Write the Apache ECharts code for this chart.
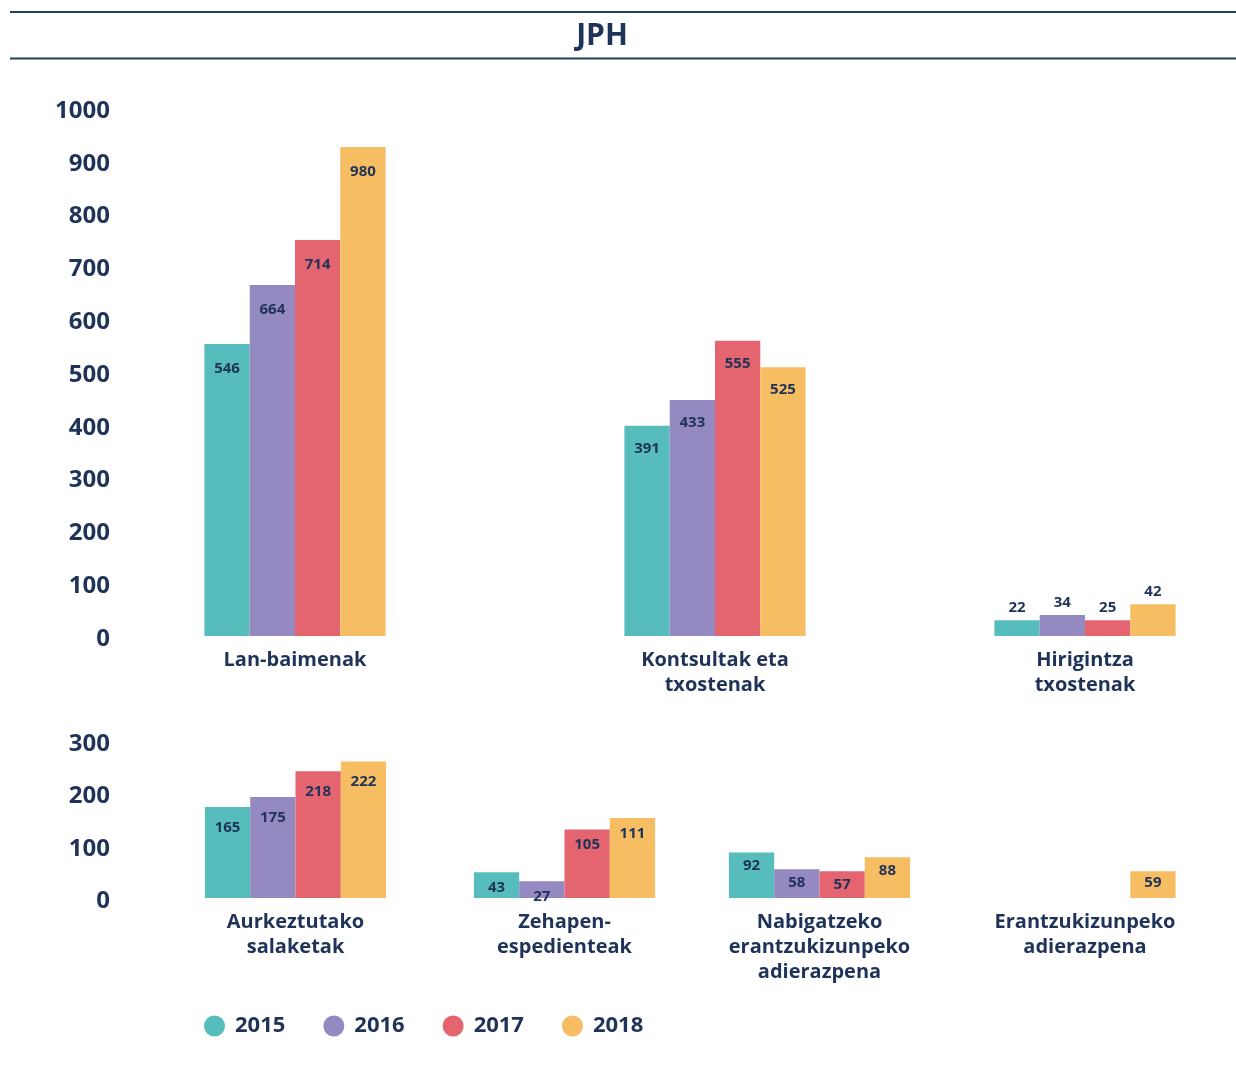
<!DOCTYPE html>
<html>

<head>
	<meta charset="utf-8">
	<title>JPH</title>
	<script src="https://cdn.jsdelivr.net/npm/echarts@6/dist/echarts.min.js"></script>
	<style>
		html, body { margin: 0; padding: 0; background: #fff; }
		#chart { width: 1236px; height: 1066px; }
	</style>
</head>

<body>
	<div id="chart"></div>
	<script>
		var years = ['2015', '2016', '2017', '2018'];
		var colors = ['#56bdbc', '#9489c0', '#e4656f', '#f7bd63'];

		var topCats = ['Lan-baimenak', 'Kontsultak eta\ntxostenak', 'Hirigintza\ntxostenak'];
		var bottomCats = ['Aurkeztutako\nsalaketak', 'Zehapen-\nespedienteak', 'Nabigatzeko\nerantzukizunpeko\nadierazpena', 'Erantzukizunpeko\nadierazpena'];

		var topTicks = [0, 100, 200, 300, 400, 500, 600, 700, 800, 900, 1000];
		var bottomTicks = [0, 100, 200, 300];

		// bar heights as drawn in the picture
		var top2015 = [553, 398, 30];
		var top2016 = [665, 447, 40];
		var top2017 = [750, 559, 30];
		var top2018 = [926, 509, 60];
		var bottom2015 = [174, 49, 87, null];
		var bottom2016 = [193, 32, 55, null];
		var bottom2017 = [242, 131, 51, null];
		var bottom2018 = [261, 153, 78, 51];

		// values printed on the bars
		var topLabels2015 = [546, 391, 22];
		var topLabels2016 = [664, 433, 34];
		var topLabels2017 = [714, 555, 25];
		var topLabels2018 = [980, 525, 42];
		var bottomLabels2015 = [165, 43, 92, null];
		var bottomLabels2016 = [175, 27, 58, null];
		var bottomLabels2017 = [218, 105, 57, null];
		var bottomLabels2018 = [222, 111, 88, 59];

		var topValues = [top2015, top2016, top2017, top2018];
		var bottomValues = [bottom2015, bottom2016, bottom2017, bottom2018];
		var topLabels = [topLabels2015, topLabels2016, topLabels2017, topLabels2018];
		var bottomLabels = [bottomLabels2015, bottomLabels2016, bottomLabels2017, bottomLabels2018];

		var navy = '#1f3257';
		var font = '"Open Sans", "Noto Sans", sans-serif';

		// layout of each group
		var groupW = 220;
		var topCenters = [295, 715, 1085];
		var bottomCenters = [295.5, 564.5, 819.5, 1085];
		var topLabelPos = [['insideTop', 17], ['insideTop', 15], ['top', 5]];
		var bottomLabelPos = [['insideTop', 13], ['insideTop', 8], ['insideTop', 6], ['insideTop', 4]];

		var grids = [], xAxes = [], yAxes = [], series = [];

		function addPanel(cats, centers, values, labels, ticks, gTop, gHeight, labelPos) {
			for (var g = 0; g < cats.length; g++) {
				var idx = grids.length;
				grids.push({ left: centers[g] - groupW / 2, width: groupW, top: gTop, height: gHeight });
				xAxes.push({
					type: 'category',
					gridIndex: idx,
					data: [cats[g]],
					axisLine: { show: false },
					axisTick: { show: false },
					axisLabel: {
						margin: 12,
						fontFamily: font,
						fontSize: 20,
						fontWeight: 'bold',
						lineHeight: 25,
						color: navy
					}
				});
				yAxes.push({
					type: 'value',
					gridIndex: idx,
					min: ticks[0],
					max: ticks[ticks.length - 1],
					interval: ticks[1] - ticks[0],
					axisLine: { show: false },
					axisTick: { show: false },
					splitLine: { show: false },
					axisLabel: {
						show: g === 0,
						margin: centers[0] - groupW / 2 - 110,
						fontFamily: font,
						fontSize: 24,
						fontWeight: 'bold',
						color: navy,
						formatter: function (v) { return '{a|' + v + '}'; },
						rich: {
							a: {
								fontFamily: font,
								fontSize: 24,
								fontWeight: 'bold',
								color: navy,
								padding: [6, 0, 0, 0]
							}
						}
					}
				});
				for (var i = 0; i < years.length; i++) {
					(function (gi, yi) {
						var v = values[yi][gi];
						series.push({
							type: 'bar',
							name: years[yi],
							xAxisIndex: idx,
							yAxisIndex: idx,
							barWidth: 45.3,
							barGap: '0%',
							itemStyle: { color: colors[yi] },
							label: {
								show: v != null,
								position: labelPos[gi][0],
								distance: labelPos[gi][1],
								fontFamily: font,
								fontSize: 15,
								fontWeight: 'bold',
								color: navy,
								formatter: function () { return labels[yi][gi]; }
							},
							data: [v == null ? '-' : v]
						});
					})(g, i);
				}
			}
		}

		addPanel(topCats, topCenters, topValues, topLabels, topTicks, 108, 528, topLabelPos);
		addPanel(bottomCats, bottomCenters, bottomValues, bottomLabels, bottomTicks, 741, 157, bottomLabelPos);

		var chart = echarts.init(document.getElementById('chart'));
		chart.setOption({
			animation: false,
			grid: grids,
			xAxis: xAxes,
			yAxis: yAxes,
			series: series,
			legend: {
				data: years,
				icon: 'circle',
				itemWidth: 21,
				itemHeight: 21,
				itemGap: 38,
				left: 199,
				top: 1010,
				textStyle: {
					fontFamily: font,
					fontSize: 22,
					fontWeight: 'bold',
					color: navy,
					padding: [0, 0, 0, 5]
				}
			},
			graphic: [
				{
					type: 'line',
					shape: { x1: 10, y1: 12, x2: 1236, y2: 12 },
					style: { stroke: '#1b4458', lineWidth: 2 }
				},
				{
					type: 'line',
					shape: { x1: 10, y1: 58.5, x2: 1236, y2: 58.5 },
					style: { stroke: '#1b4458', lineWidth: 2 }
				},
				{
					type: 'text',
					x: 602,
					y: 36,
					style: {
						text: 'JPH',
						fill: navy,
						font: 'bold 30px ' + font,
						textAlign: 'center',
						textVerticalAlign: 'middle'
					}
				}
			]
		});
	</script>
</body>

</html>
